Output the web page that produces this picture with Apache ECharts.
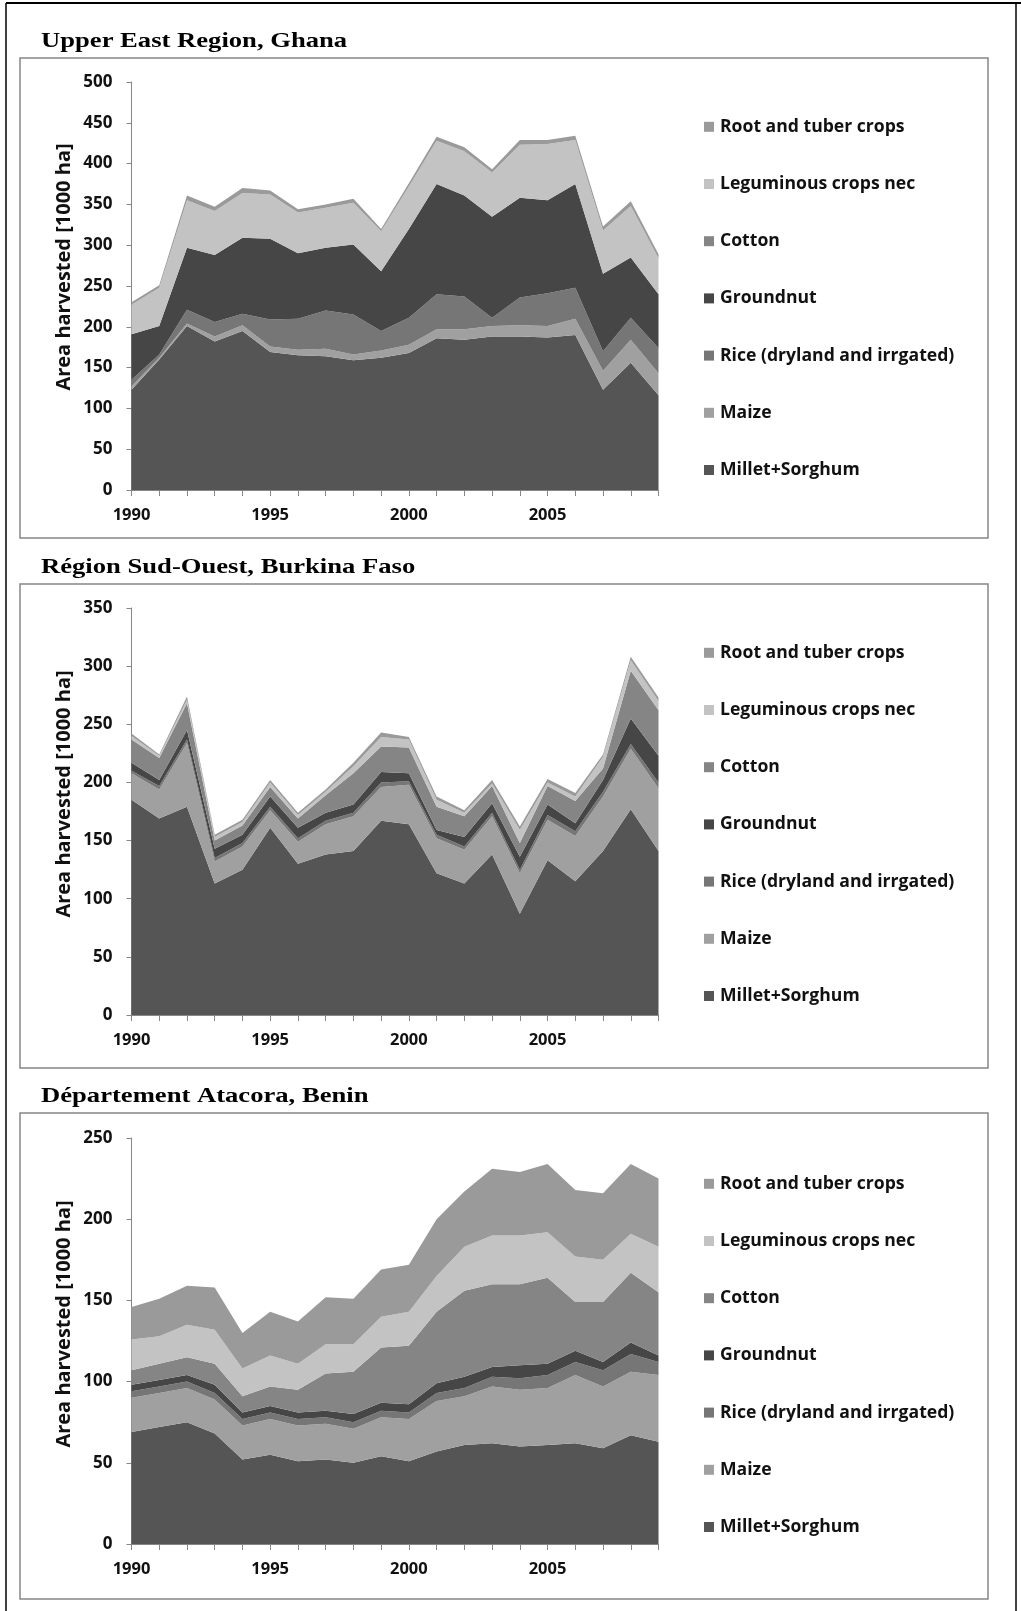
<!DOCTYPE html>
<html>
<head>
<meta charset="utf-8">
<script src="https://cdn.jsdelivr.net/npm/echarts@6/dist/echarts.min.js"></script>
<style>
html,body{margin:0;padding:0;background:#fff;}
#c{width:1021px;height:1611px;}
</style>
</head>
<body>
<div id="c"></div>
<script>
const years = ['1990','1991','1992','1993','1994','1995','1996','1997','1998','1999','2000','2001','2002','2003','2004','2005','2006','2007','2008','2009'];
const xTickLabels = ['1990','1995','2000','2005'];
const cropNames = ['Millet+Sorghum','Maize','Rice (dryland and irrgated)','Groundnut','Cotton','Leguminous crops nec','Root and tuber crops'];
const cropColors = ['#555555','#a0a0a0','#767676','#464646','#858585','#c3c3c3','#9a9a9a'];
const chartTitles = ['Upper East Region, Ghana','Région Sud-Ouest, Burkina Faso','Département Atacora, Benin'];
const yAxisName = 'Area harvested [1000 ha]';
const yMax = [500, 350, 250];

// Upper East Region, Ghana
const ghMillet    = [123,160,201,182,195,169,165,164,159,162,168,186,184,188,188,187,190,123,156,116];
const ghMaize     = [4,2,3,6,7,7,7,9,7,9,10,11,13,13,14,14,20,23,28,27];
const ghRice      = [8,4,17,18,14,33,38,47,49,24,33,43,40,10,34,40,38,24,27,31];
const ghGroundnut = [56,35,76,82,93,99,80,77,86,73,109,135,124,124,122,114,127,95,74,66];
const ghCotton    = [0,0,0,0,0,0,0,0,0,0,0,0,0,0,0,0,0,0,0,0];
const ghLegum     = [36,47,58,54,55,54,50,49,51,49,52,53,54,54,65,69,54,53,63,44];
const ghRoot      = [3,3,6,5,6,5,4,4,5,3,4,5,5,4,6,5,5,5,6,5];

// Région Sud-Ouest, Burkina Faso
const bfMillet    = [185,169,179,113,125,161,130,138,141,167,164,122,113,138,87,133,115,141,177,141];
const bfMaize     = [23,25,55,19,20,15,19,26,30,29,34,30,29,33,35,35,39,47,52,54];
const bfRice      = [2,3,3,3,3,3,3,3,3,4,3,3,3,3,3,4,4,4,4,5];
const bfGroundnut = [7,5,8,8,7,9,9,7,7,9,7,4,8,8,11,9,7,10,22,23];
const bfCotton    = [20,19,23,7,8,8,8,15,27,22,22,20,18,15,12,16,19,10,41,39];
const bfLegum     = [3,2,3,3,3,4,3,3,6,8,7,6,3,2,11,3,4,10,9,8];
const bfRoot      = [2,1,3,2,2,2,2,2,3,4,2,3,2,3,3,3,3,2,3,3];

// Département Atacora, Benin
const bnMillet    = [69,72,75,68,52,55,51,52,50,54,51,57,61,62,60,61,62,59,67,63];
const bnMaize     = [21,21,21,21,21,22,22,22,21,24,26,31,30,35,35,35,42,38,39,41];
const bnRice      = [4,4,4,4,4,4,4,4,4,4,4,5,5,6,7,8,8,10,11,8];
const bnGroundnut = [4,4,4,5,4,4,4,4,5,5,5,6,7,6,8,7,7,5,7,4];
const bnCotton    = [9,10,11,13,10,12,14,23,26,34,36,44,53,51,50,53,30,37,43,39];
const bnLegum     = [19,17,20,21,17,19,16,18,17,19,21,22,27,30,30,28,28,26,24,28];
const bnRoot      = [20,23,24,26,22,27,26,29,28,29,29,35,34,41,39,42,41,41,43,42];

const regionData = [
  [ghMillet, ghMaize, ghRice, ghGroundnut, ghCotton, ghLegum, ghRoot],
  [bfMillet, bfMaize, bfRice, bfGroundnut, bfCotton, bfLegum, bfRoot],
  [bnMillet, bnMaize, bnRice, bnGroundnut, bnCotton, bnLegum, bnRoot]
];

// layout
const plotLeft = 131.5, plotWidth = 527;
const gridTops = [82, 608, 1138];
const gridHeights = [408, 407, 406];
const boxTops = [58, 584, 1113];
const boxHeights = [480, 484, 486];
const titleTops = [30, 556, 1085];
const legendFirst = [126.8, 652.8, 1183.8];
const legendStep = 57.2;
const yNameCenters = [267, 794, 1324];

const axisGray = '#868686';
const sansFont = '"Open Sans"';

const chart = echarts.init(document.getElementById('c'), null, {renderer: 'canvas'});

const grids = [], xAxes = [], yAxes = [], series = [], legends = [], graphics = [];

// page frame
graphics.push({type:'line', shape:{x1:6, y1:3, x2:1021, y2:3}, style:{stroke:'#000', lineWidth:2}, z:10});
graphics.push({type:'line', shape:{x1:6, y1:3, x2:6, y2:1611}, style:{stroke:'#000', lineWidth:1.5}, z:10});
graphics.push({type:'line', shape:{x1:1016, y1:3, x2:1016, y2:1611}, style:{stroke:'#000', lineWidth:1.5}, z:10});

for (let r = 0; r < 3; r++) {
  grids.push({left: plotLeft, top: gridTops[r], width: plotWidth, height: gridHeights[r], containLabel: false});
  xAxes.push({
    type:'category', gridIndex:r, data: years, boundaryGap:false,
    axisLine:{show:true, lineStyle:{color:axisGray, width:1}},
    axisTick:{show:true, interval:0, length:6, lineStyle:{color:axisGray}},
    axisLabel:{
      interval: 0,
      formatter: function(v){ return xTickLabels.indexOf(v) >= 0 ? v : ''; },
      fontFamily: sansFont, fontWeight:'bold', fontSize:16.5, color:'#111', margin:17
    },
    splitLine:{show:false}
  });
  yAxes.push({
    type:'value', gridIndex:r, min:0, max:yMax[r], interval:50,
    axisLine:{show:true, lineStyle:{color:axisGray, width:1}},
    axisTick:{show:true, length:5, lineStyle:{color:axisGray}},
    axisLabel:{fontFamily:sansFont, fontWeight:'bold', fontSize:17, color:'#111', margin:19},
    splitLine:{show:false}
  });
  for (let s = 0; s < cropNames.length; s++) {
    series.push({
      type:'line', name: cropNames[s], xAxisIndex:r, yAxisIndex:r,
      stack:'total'+r, data: regionData[r][s],
      symbol:'none', smooth:false,
      lineStyle:{width:0, color: cropColors[s]},
      itemStyle:{color: cropColors[s]},
      areaStyle:{color: cropColors[s], opacity:1},
      emphasis:{disabled:true},
      animation:false
    });
  }
  legends.push({
    orient:'vertical', left:704, top: legendFirst[r] - 10,
    data: cropNames.slice().reverse(),
    icon:'rect', itemWidth:10, itemHeight:10, itemGap: legendStep - 20,
    selectedMode:false,
    textStyle:{fontFamily:sansFont, fontWeight:'bold', fontSize:17.6, color:'#111', lineHeight:20, padding:[0,0,0,1]},
    padding:0
  });
  graphics.push({type:'rect', shape:{x:20, y:boxTops[r], width:968, height:boxHeights[r]},
    style:{fill:'none', stroke:axisGray, lineWidth:1.5}, z:-1});
  graphics.push({type:'text', x:41, y:titleTops[r], scaleX:1.21, originX:0, originY:0,
    style:{text: chartTitles[r], font:'bold 22px "Liberation Serif"', fill:'#000'}, z:10});
  graphics.push({type:'text', x:64, y:yNameCenters[r], rotation:Math.PI/2,
    style:{text: yAxisName, font:'bold 20px "Open Sans"', fill:'#111', align:'center', verticalAlign:'middle'}, z:10});
}

chart.setOption({
  backgroundColor:'#fff',
  animation:false,
  grid: grids, xAxis: xAxes, yAxis: yAxes, series: series, legend: legends,
  graphic: graphics
});
</script>
</body>
</html>
